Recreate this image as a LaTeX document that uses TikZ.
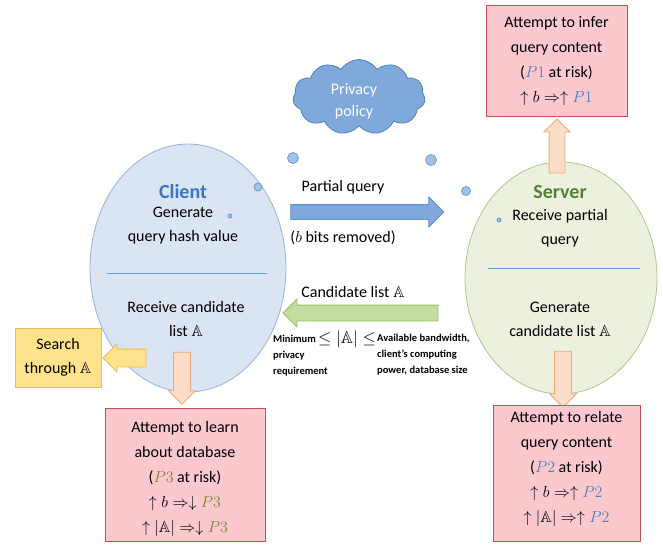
\RequirePackage{fix-cm}
\documentclass[tikz,border=0pt]{standalone}
\usepackage{amsmath,amssymb}
\usepackage{fontspec}
\setmainfont{Carlito}
\usetikzlibrary{shapes.geometric,shapes.symbols,shapes.arrows}
\definecolor{clientfill}{RGB}{218,228,243}
\definecolor{clientdraw}{RGB}{150,180,215}
\definecolor{serverfill}{RGB}{235,241,222}
\definecolor{serverdraw}{RGB}{170,200,140}
\definecolor{clientblue}{RGB}{57,120,190}
\definecolor{servergreen}{RGB}{84,130,53}
\definecolor{divider}{RGB}{91,155,213}
\definecolor{cloudfill}{RGB}{127,169,219}
\definecolor{clouddraw}{RGB}{79,129,189}
\definecolor{dotfill}{RGB}{157,195,230}
\definecolor{dotdraw}{RGB}{100,150,205}
\definecolor{bafill}{RGB}{128,168,220}
\definecolor{badraw}{RGB}{100,140,200}
\definecolor{gafill}{RGB}{195,220,160}
\definecolor{gadraw}{RGB}{155,190,100}
\definecolor{peachfill}{RGB}{252,222,200}
\definecolor{peachdraw}{RGB}{235,170,120}
\definecolor{yelfill}{RGB}{255,226,140}
\definecolor{yeldraw}{RGB}{235,190,80}
\definecolor{riskfill}{RGB}{250,200,205}
\definecolor{riskdraw}{RGB}{200,80,80}
\definecolor{pblue}{RGB}{79,129,189}
\definecolor{polive}{RGB}{125,135,55}
\begin{document}
\begin{tikzpicture}[x=1pt,y=-1pt,
  body/.style={font=\fontsize{16}{24}\selectfont, align=center, inner sep=0pt},
  small/.style={font=\bfseries\fontsize{10.5}{16}\selectfont, align=left, inner sep=0pt, anchor=west},
  party/.style={ellipse, line width=0.8pt},
  dotnode/.style={circle, fill=dotfill, draw=dotdraw, line width=0.7pt, inner sep=0pt},
  fatarrow/.style={single arrow, inner xsep=0pt, line width=0.8pt},
  riskbox/.style={rectangle, fill=riskfill, draw=riskdraw, line width=0.8pt, inner sep=0pt},
  risktext/.style={align=center, font=\fontsize{16}{25}\selectfont, inner sep=0pt},
  lbl/.style={font=\bfseries\fontsize{20}{24}\selectfont, inner sep=0pt}
]
\useasboundingbox (0,0) rectangle (663,544);

% parties
\node[party, fill=clientfill, draw=clientdraw, minimum width=196, minimum height=248] (client) at (188,268) {};
\node[party, fill=serverfill, draw=serverdraw, minimum width=192, minimum height=232] (server) at (561,278) {};
\draw[divider, line width=0.8pt] (107,273) -- (267,273);
\draw[divider, line width=0.8pt] (488,268) -- (640,268);

% cloud
\node[cloud, cloud puffs=11, cloud puff arc=115, aspect=1.75, fill=cloudfill, draw=clouddraw, line width=0.8pt,
  minimum width=132, minimum height=75, inner sep=0pt] (cloud) at (359,97) {};
\node[body, text=white, font=\fontsize{16}{22}\selectfont] (cloudtxt) at (354,101) {Privacy\\policy};

% dots
\node[dotnode, minimum size=11] (d1) at (293,158) {};
\node[dotnode, minimum size=11] (d2) at (431,160) {};
\node[dotnode, minimum size=8] (d3) at (258,187) {};
\node[dotnode, minimum size=4] (d4) at (230,216) {};
\node[dotnode, minimum size=9] (d5) at (466,191) {};
\node[dotnode, minimum size=4] (d6) at (499,220) {};

% fat arrows
\node[fatarrow, fill=bafill, draw=badraw, minimum height=153, inner ysep=7, single arrow head extend=7.5] (qarrow) at (363.5,212) {};
\node[fatarrow, fill=gafill, draw=gadraw, minimum height=155, inner ysep=7.5, single arrow head extend=6, rotate=180] (carrow) at (364.5,313) {};
\node[fatarrow, fill=peachfill, draw=peachdraw, minimum height=52, inner ysep=8, single arrow head extend=5, rotate=-90] (cdown) at (182,374) {};
\node[fatarrow, fill=peachfill, draw=peachdraw, minimum height=56, inner ysep=8, single arrow head extend=5, rotate=-90] (sdown) at (563,375) {};
\node[fatarrow, fill=peachfill, draw=peachdraw, minimum height=54, inner ysep=7.5, single arrow head extend=5, rotate=90] (sup) at (557,150) {};
\node[fatarrow, fill=yelfill, draw=yeldraw, minimum height=43, inner ysep=8.5, single arrow head extend=5, rotate=180] (yarrow) at (129,358) {};

% client text
\node[lbl, text=clientblue] (clientlbl) at (183,192) {Client};
\node[body] (c1) at (183,226) {Generate\\query hash value};
\node[body] (c2) at (186,319) {Receive candidate\\list $\mathbb{A}$};

% server text
\node[lbl, text=servergreen] (serverlbl) at (560,192) {Server};
\node[body] (s1) at (560,228) {Receive partial\\query};
\node[body] (s2) at (560,319) {Generate\\candidate list $\mathbb{A}$};

% middle text
\node[body] (pq) at (343,187) {Partial query};
\node[body] (br) at (343,238) {($b$ bits removed)};
\node[body] (cl) at (353,292) {Candidate list $\mathbb{A}$};
\node[small] (minp) at (273,356) {Minimum\\privacy\\requirement};
\node[body, font=\fontsize{17}{20}\selectfont] (ineq) at (347,339) {$\leq|\mathbb{A}|\leq$};
\node[small] (avail) at (377,355) {Available bandwidth,\\client’s computing\\power, database size};

% search box
\node[rectangle, fill=yelfill, draw=yeldraw, line width=0.8pt, minimum width=86, minimum height=59,
  body] (search) at (58,357.5) {Search\\through $\mathbb{A}$};

% risk boxes
\node[riskbox, minimum width=141, minimum height=111] (p1) at (556.5,60.5) {};
\node[risktext] (p1t) at (556.5,61)
  {Attempt to infer\\query content\\(\textcolor{pblue}{$P1$} at risk)\\$\uparrow b\Rightarrow\uparrow\textcolor{pblue}{P1}$};
\node[riskbox, minimum width=160, minimum height=133] (p3) at (185,474.5) {};
\node[risktext] (p3t) at (185,478.5)
  {Attempt to learn\\about database\\(\textcolor{polive}{$P3$} at risk)\\$\uparrow b\Rightarrow\downarrow\textcolor{polive}{P3}$\\$\uparrow|\mathbb{A}|\Rightarrow\downarrow\textcolor{polive}{P3}$};
\node[riskbox, minimum width=147, minimum height=136] (p2) at (566.5,473) {};
\node[risktext] (p2t) at (566.5,469)
  {Attempt to relate\\query content\\(\textcolor{pblue}{$P2$} at risk)\\$\uparrow b\Rightarrow\uparrow\textcolor{pblue}{P2}$\\$\uparrow|\mathbb{A}|\Rightarrow\uparrow\textcolor{pblue}{P2}$};
\end{tikzpicture}
\end{document}
